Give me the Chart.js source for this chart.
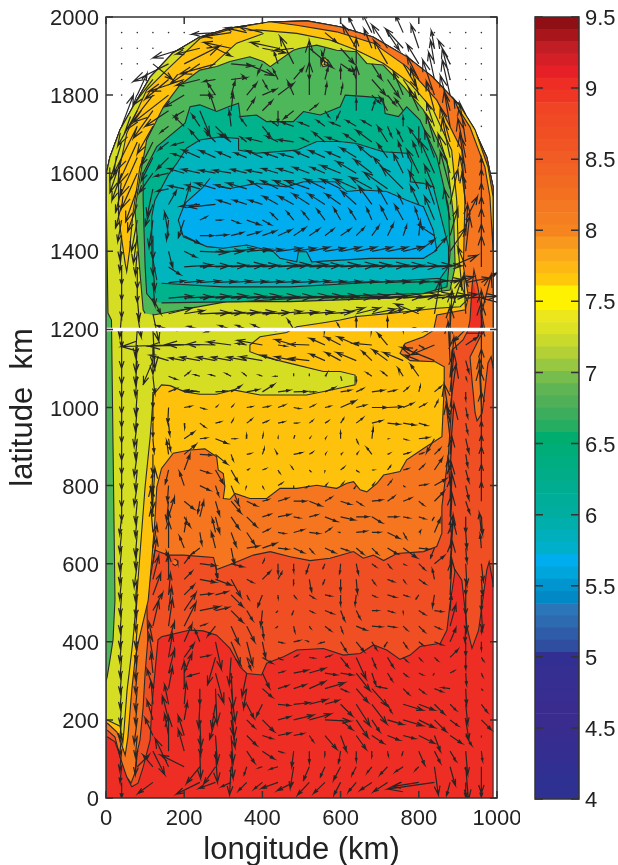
<!DOCTYPE html>
<html><head><meta charset="utf-8">
<style>html,body{margin:0;padding:0;background:#fff;width:618px;height:865px;overflow:hidden}
canvas{position:absolute;top:0}</style>
<script src="https://cdn.jsdelivr.net/npm/chart.js@4"></script></head><body>
<canvas id="main" width="520" height="865" style="left:0"></canvas>
<canvas id="bar" width="98" height="865" style="left:520px"></canvas>
<script>
// Colour bar
const barMin = 4, barMax = 9.5;
const barColors = ['#2e3192','#2e3192','#312f91','#342e90','#362d90','#382c8f','#3a2c8f','#3a2c8f','#382d90','#362e90','#342f91','#322f92',
'#2f4ea0','#2e5ca8','#2d6ab0','#2a76b8','#0089c4','#0095cf','#00a5dc','#00aeef','#00afca','#00afbb','#00aeac','#00ad9f','#00ad98','#00ad90','#00ad88','#00ad80','#00ad78','#00ad6e',
'#25ad62','#3bad5c','#50b058','#5fb554','#77bd4d','#98c741','#b3d136','#c9da2c','#dde223','#ece61c','#fff200','#fff200','#ffc80a','#fdb813','#fba91a','#f8981d','#f6851f',
'#f57e20','#f47721','#f37021','#f26a22','#f26323','#f15c24','#f15524','#f04f24','#f04a24','#f04424','#ef3524','#ee2e24','#e62026','#d51f26','#c11d24','#a8151b','#8f0f14'];

// Contour regions, longitude / latitude in km
const domainEdge = [[0,0],[0,1595],[10,1641],[36,1711],[69,1770],[113,1846],[171,1908],[240,1949],[317,1972],[419,1987],[514,1990],[598,1975],[683,1949],[770,1898],[836,1846],[898,1780],[939,1718],[974,1641],[990,1565],[990,0]];
const domeArc = [[990,1565],[974,1641],[939,1718],[898,1780],[836,1846],[770,1898],[683,1949],[598,1975],[514,1990],[419,1987],[317,1972],[240,1949],[171,1908],[113,1846],[69,1770],[36,1711],[10,1641],[0,1595]];
const redOrangeEdge = [[3,157],[23,144],[40,97],[57,46],[66,29],[82,38],[95,79],[113,149],[117,233],[125,320],[133,405],[142,413],[160,417],[215,430],[249,428],[283,417],[317,383],[343,336],[360,319],[398,315],[411,345],[454,362],[488,379],[556,383],[607,366],[650,370],[684,392],[718,379],[752,355],[778,366],[803,388],[855,396],[872,430],[880,498],[893,584],[910,558],[923,439],[936,383],[953,430],[974,584],[980,605],[988,560],[990,540]];
const redSpot = [[936,1330],[925,1215],[922,1190],[965,1190],[958,1250]];
const orangeEdge = [[3,174],[23,156],[36,105],[53,54],[64,38],[74,64],[79,115],[87,149],[95,233],[100,320],[107,405],[104,507],[125,635],[134,631],[159,622],[198,622],[275,616],[283,585],[326,601],[377,622],[420,631],[471,618],[522,608],[573,614],[633,631],[658,614],[684,622],[710,608],[744,626],[812,631],[846,644],[859,678],[859,746],[876,883],[884,1010],[884,1139],[885,1147],[913,1173],[926,1198],[931,1224],[936,1309],[941,1352],[951,1309],[964,1224],[969,1198],[957,1181],[931,1129],[936,1070],[944,986],[949,966],[962,986],[977,1114],[985,1130],[990,1100]];
const goldEdge = [[3,192],[28,169],[36,149],[49,110],[56,156],[66,277],[74,353],[84,405],[108,507],[117,609],[125,712],[130,797],[142,844],[172,883],[215,891],[253,894],[283,874],[287,840],[300,831],[304,797],[300,767],[317,765],[330,780],[368,767],[411,767],[445,793],[488,793],[539,801],[590,793],[616,806],[633,810],[650,789],[667,784],[693,806],[710,827],[752,836],[769,866],[812,895],[859,925],[865,1053],[865,1104],[842,1117],[778,1120],[752,1139],[765,1164],[812,1181],[838,1198],[846,1237],[919,1250],[927,1284],[914,1361],[918,1531],[910,1659],[846,1787],[769,1873],[684,1933],[590,1962],[488,1979],[419,1988],[326,1971],[240,1945],[172,1898],[100,1700],[60,1400],[3,1300]];
const yellowGreenEdge = [[3,200],[36,184],[43,141],[46,174],[54,277],[61,335],[69,405],[78,507],[87,626],[100,797],[113,925],[121,1032],[142,1058],[164,1056],[202,1040],[240,1034],[283,1034],[326,1045],[394,1032],[437,1032],[513,1032],[582,1046],[637,1058],[637,1083],[599,1092],[556,1092],[471,1113],[403,1130],[368,1143],[368,1160],[394,1181],[462,1192],[488,1207],[556,1217],[599,1224],[641,1233],[727,1241],[846,1254],[906,1258],[923,1275],[910,1309],[901,1403],[897,1531],[884,1659],[837,1762],[778,1830],[710,1881],[641,1915],[573,1941],[488,1958],[385,1967],[326,1958],[240,1949],[171,1908],[113,1846],[69,1770],[36,1711],[10,1641],[0,1595],[0,200]];
const goldWedge = [[326,1971],[240,1945],[155,1864],[104,1813],[53,1702],[32,1600],[32,1489],[49,1369],[53,1348],[60,1400],[69,1498],[87,1617],[121,1702],[189,1805],[258,1864],[334,1933],[403,1958]];
const goldRim = [[900,1782],[944,1711],[977,1616],[990,1539],[990,1400],[982,1539],[969,1616],[931,1718],[898,1770]];
const leftGreen = [[0,1590],[5,1242],[14,1224],[18,900],[23,507],[18,405],[10,353],[3,310],[0,300]];
const greenEdge = [[121,1237],[309,1271],[471,1271],[727,1280],[880,1301],[893,1361],[889,1489],[872,1634],[812,1762],[761,1822],[709,1877],[667,1881],[641,1911],[590,1915],[539,1928],[496,1920],[479,1915],[420,1873],[402,1886],[368,1898],[317,1886],[283,1873],[240,1864],[189,1826],[147,1770],[104,1685],[87,1591],[74,1506],[87,1344],[95,1250],[100,1241]];
const tealEdge = [[142,1268],[343,1271],[556,1284],[812,1292],[872,1309],[880,1395],[876,1514],[846,1642],[803,1736],[769,1770],[748,1745],[714,1753],[709,1792],[667,1796],[612,1800],[599,1770],[548,1749],[505,1758],[479,1732],[411,1732],[385,1749],[343,1745],[339,1779],[313,1770],[283,1758],[240,1775],[215,1770],[202,1728],[130,1668],[95,1600],[95,1531],[100,1361],[104,1292],[121,1271]];
const cyanEdge = [[142,1318],[300,1309],[471,1309],[641,1318],[855,1331],[876,1361],[876,1412],[837,1565],[812,1574],[778,1578],[782,1625],[769,1651],[709,1655],[641,1676],[599,1681],[539,1681],[488,1659],[385,1651],[339,1659],[339,1689],[292,1693],[240,1685],[206,1664],[181,1625],[159,1595],[125,1531],[117,1489],[117,1395],[130,1326]];
const blueEdge = [[266,1587],[249,1565],[202,1523],[185,1480],[198,1437],[258,1412],[300,1408],[360,1416],[428,1399],[445,1382],[488,1373],[492,1399],[513,1399],[526,1373],[676,1382],[812,1382],[846,1403],[837,1454],[812,1514],[769,1531],[718,1553],[658,1557],[616,1553],[586,1578],[505,1578],[462,1565],[385,1574],[317,1561],[292,1565]];
const goldSpot = [[552,1890],[560,1896],[568,1886],[565,1875],[555,1873],[550,1882]];
const orangeSpot = [[175,612],[182,608],[184,600],[177,595],[170,600]];

const layerEdges = [domainEdge, [...redOrangeEdge, ...domeArc], redSpot, [...orangeEdge, ...domeArc], goldEdge, goldRim, yellowGreenEdge, goldWedge, leftGreen, greenEdge, tealEdge, cyanEdge, blueEdge, goldSpot, orangeSpot];
const layerColors = ['#ee2e24','#f04e23','#ee3124','#f5761f','#fec20d','#fec20d','#d6de23','#fec20d','#4eb759','#4eb759','#00b38d','#00b5be','#00aeef','#fec20d','#f5761f'];

// Still points (latitude, then longitudes)
const stillRows = [[1960,40,80,120,160,200,800,840,880,920,960],[1920,40,80,120,840,880,920,960],[1880,40,80,880,920,960],[1840,40,80,880,920,960],[1800,40,920,960],[1760,960],[1720,960]];

// Velocity arrows: latitude, then repeated longitude, east and north extent (km)
const arrowRows = [
[1960,280,-60,-4,320,-70,-10,360,-55,12,400,-60,15,560,30,-25,640,-20,40,680,-25,50,720,30,-45,760,-20,45],
[1920,200,-80,-25,240,-60,-15,280,40,-20,320,-70,15,400,60,-12,440,-70,15,480,-50,-6,520,60,-50,560,-10,-40,600,35,-40,640,-35,60,680,-20,50,720,-40,60,760,-45,50,800,-20,60,840,-8,45],
[1880,120,50,-40,160,-90,-45,200,90,45,240,-75,-50,280,-90,-25,320,55,-5,360,70,-30,400,-12,-25,440,-10,30,480,-35,70,520,0,-40,560,-8,30,600,30,-20,640,0,65,680,25,-40,720,-35,60,760,35,-60,800,-30,50,840,-10,60,880,-30,60],
[1840,120,-50,-65,160,-60,-50,200,-90,-30,240,-60,-15,280,-30,-5,320,40,5,360,-10,10,400,12,-22,440,-12,25,480,25,30,520,0,100,560,8,30,600,0,30,640,-10,30,680,35,-40,720,30,-45,760,35,-50,800,-30,60,840,-15,70,880,-20,80],
[1800,80,25,55,120,-70,-90,160,-90,-70,200,-50,-30,240,30,0,280,-20,30,320,10,35,360,25,30,400,35,15,440,40,30,480,-15,35,520,0,85,560,5,30,600,5,25,640,0,75,680,20,-20,720,20,-25,760,-25,60,800,-20,70,840,-30,90,880,-20,90],
[1760,80,-50,-90,120,-50,-70,160,-60,-40,200,-25,-15,240,25,-60,280,-15,45,320,5,45,360,20,30,400,25,25,440,0,-30,480,-25,-20,520,20,15,560,10,-15,600,-10,-20,640,0,30,680,8,25,720,-20,35,760,-20,30,800,-25,55,840,-20,75,880,-25,90],
[1720,40,30,80,80,-60,-120,120,-40,-70,160,-20,-15,200,-25,25,240,-20,30,280,30,-30,320,-5,40,360,-15,20,400,20,-25,440,-15,12,480,-30,10,520,-25,10,560,-20,15,600,-25,10,640,-25,15,680,-25,15,720,10,-25,760,0,25,800,0,-45,840,-20,60,880,-15,90,920,-30,70],
[1680,40,-30,-100,80,-50,-110,120,-30,-60,160,-25,-20,200,-30,-8,240,-25,30,280,-25,25,320,-30,20,360,-15,12,400,-40,10,440,-30,15,480,-40,6,520,-20,10,560,-30,25,600,-35,12,640,-30,20,680,-40,30,720,-25,40,760,-15,30,800,-25,35,840,-20,70,880,-25,90,920,-15,100],
[1640,40,-30,-90,80,-45,-100,120,-30,-60,160,-30,-30,200,-30,10,240,-45,20,280,-40,18,320,-35,15,360,-30,12,400,-40,18,440,-35,12,480,-35,10,520,-35,15,560,-40,18,600,-35,15,640,-40,25,680,-35,30,720,-25,35,760,-12,40,800,-15,40,840,-25,70,880,-20,100,920,-20,100],
[1600,40,-25,-70,80,-40,-90,120,-35,-50,160,-35,-8,200,-40,12,240,-45,10,280,-40,8,320,-45,8,360,-40,10,400,-40,8,440,-40,12,480,-40,12,520,-40,15,560,-35,15,600,-50,20,640,-50,30,680,-45,35,720,-35,40,760,-25,50,800,-30,60,840,-35,80,880,-30,100,920,-15,100,960,0,40],
[1560,40,-15,-60,80,-30,-85,120,-15,-70,160,-30,-6,200,-40,8,240,-35,10,280,-50,15,320,-40,10,360,-50,15,400,-34,21,440,-42,21,480,-50,21,520,-60,21,560,-50,25,600,-50,25,640,-55,25,680,-55,30,720,-60,42,760,-55,55,800,-25,45,840,-25,60,880,-25,95,920,-15,85,960,0,50],
[1520,40,-15,-60,80,-25,-70,120,-20,-55,160,20,35,200,15,50,240,-50,-5,280,-68,-7,320,-34,11,360,-34,11,400,-34,11,440,-38,21,480,-38,21,520,-42,27,560,-42,27,600,-38,27,640,-38,34,680,-34,47,720,-25,44,760,-12,25,800,-21,47,840,-21,60,880,20,90,920,-10,80,960,0,55],
[1480,40,-10,-55,80,-15,-80,120,-10,-70,160,-5,-50,200,-15,-45,240,17,8,280,15,0,320,21,-8,360,34,-12,400,21,-12,440,-17,17,480,-17,21,520,-17,21,560,-20,27,600,-17,30,640,-17,27,680,-13,30,720,-17,34,760,-21,38,800,-9,30,840,-25,60,880,-15,80,920,30,60,960,0,60],
[1440,40,-5,-60,80,-10,-70,120,0,-60,160,-10,60,200,40,-20,240,34,0,280,30,2,320,30,8,360,34,10,400,34,12,440,34,15,480,30,20,520,25,17,560,22,17,600,25,17,640,20,20,680,18,25,720,15,30,760,9,26,800,4,38,840,-38,25,880,20,70,920,5,80,960,0,70],
[1400,40,-5,-50,80,-5,-60,120,0,-60,160,10,-40,200,30,-15,240,70,-3,280,70,0,320,60,6,360,60,5,400,50,5,440,60,8,480,55,8,520,50,10,560,50,8,600,50,10,640,50,10,680,50,10,720,50,10,760,50,12,800,40,30,840,30,35,880,40,60,920,10,90,960,0,70],
[1360,40,0,-45,80,0,-55,120,5,-60,160,30,-20,200,70,5,240,75,3,280,80,4,320,85,5,360,80,4,400,90,5,440,80,6,480,85,6,520,80,4,560,85,5,600,90,5,640,85,5,680,90,5,720,90,4,760,90,3,800,85,4,840,70,3,880,70,30,920,-20,50,960,0,80],
[1320,40,0,-45,80,0,-50,120,5,-60,160,40,4,200,45,4,240,50,4,280,50,3,320,50,4,360,50,3,400,50,3,440,50,3,480,55,3,520,50,4,560,50,3,600,50,3,640,50,3,680,50,3,720,55,3,760,60,3,800,70,5,840,70,8,880,60,15,920,60,12,960,40,25],
[1280,40,0,-50,80,5,-55,120,20,-40,160,60,5,200,70,4,240,75,5,280,80,6,320,85,5,360,85,5,400,90,4,440,90,4,480,90,5,520,85,5,560,85,5,600,85,4,640,80,6,680,90,6,720,90,5,760,90,8,800,85,10,840,85,8,880,70,10,920,80,5,960,60,-15],
[1240,40,-5,-60,80,10,-60,120,15,-70,160,60,15,200,50,8,240,75,3,280,70,3,320,70,4,360,70,5,400,70,3,440,60,6,480,60,4,520,60,5,560,70,5,600,60,15,640,60,15,680,60,12,720,40,12,760,50,15,800,-60,25,840,15,85,880,30,90,920,-5,100,960,25,100],
[1200,40,0,-45,80,-5,-70,120,5,-100,160,-30,10,200,-25,-2,240,-30,8,280,-25,-6,320,-30,10,360,-25,10,400,-25,12,440,-5,-3,480,-15,25,560,-2,-8,600,-8,15,640,0,30,680,-2,-8,720,0,30,760,0,-5,800,-10,4,840,-25,-5,880,5,100,920,-30,-30,960,0,100],
[1160,40,0,-60,80,-4,-70,120,0,-75,160,-120,-4,200,-90,-3,240,-85,2,280,-72,2,320,-60,8,360,-25,4,400,-64,12,440,20,-3,480,-47,14,520,-50,2,560,-38,17,600,-38,20,640,-47,21,680,-47,4,720,-25,30,760,15,-12,800,13,-8,840,-60,-25,880,0,100,920,30,20,960,0,110],
[1120,40,0,-60,80,-5,-60,120,-25,-60,160,-47,14,200,-38,7,240,-50,9,280,-47,9,320,-50,9,360,-50,9,400,-57,10,440,-42,14,480,-47,10,520,-50,6,560,-38,17,600,-38,21,640,-50,21,680,-25,24,720,-38,28,760,-50,21,800,-35,14,840,-85,34,880,-5,100,920,8,-30,960,0,90],
[1080,40,0,-55,80,-5,-50,120,5,-45,160,20,-8,200,13,10,240,-13,4,280,-13,4,320,-13,7,360,-8,7,400,-8,3,440,-8,0,480,0,8,520,0,7,560,5,7,600,3,-10,640,0,-12,680,-13,9,720,-13,11,760,-13,21,800,-21,30,880,10,100,920,2,-8,960,0,70],
[1040,40,0,-55,80,-4,-60,120,0,-40,160,20,8,200,25,2,240,-38,4,280,25,2,320,25,15,360,30,6,400,30,19,440,30,4,480,34,1,520,13,0,560,25,11,600,25,4,640,17,8,680,30,4,720,20,4,760,13,11,800,4,15,840,17,14,880,10,100,920,0,-20,960,-5,85],
[1000,40,0,-50,80,-5,-60,120,0,-35,160,-2,-40,200,17,3,240,13,-4,280,4,3,320,5,5,360,13,2,400,17,3,440,17,6,480,15,-3,520,13,6,560,13,3,600,38,17,640,24,6,680,38,0,720,38,2,760,25,11,800,17,9,840,9,17,880,15,110,920,5,-25,960,-5,100],
[960,40,0,-50,80,-8,-60,120,0,-35,160,3,-30,200,2,-13,240,13,-10,280,13,3,320,5,8,360,13,10,400,13,5,440,15,3,480,10,0,520,8,6,560,8,5,600,8,12,640,17,13,680,25,6,720,30,-3,760,30,-5,800,20,-6,880,-15,100,920,5,-25,960,0,80],
[920,40,0,-55,80,-5,-50,120,3,-35,160,5,-30,200,25,17,240,17,2,280,30,-12,320,12,0,360,0,10,400,2,10,440,0,4,480,3,9,520,2,2,560,2,2,600,0,17,640,4,-10,680,3,25,720,2,0,760,10,-3,800,25,3,840,-20,-35,880,-10,90,920,8,-35,960,0,45],
[880,40,0,-50,80,-8,-55,120,0,-50,160,-5,35,200,30,25,240,30,-2,280,30,-25,320,5,-15,360,10,2,400,5,15,440,-5,7,480,20,4,520,8,5,560,2,2,600,3,2,640,4,4,680,-13,17,720,5,2,760,15,4,800,10,3,840,15,15,880,10,130,920,5,-30,960,0,50],
[840,40,0,-50,80,-5,-50,120,-3,-60,160,-8,-35,200,15,40,240,25,-8,280,20,-35,320,17,-30,360,5,2,400,8,3,440,4,-7,480,-5,8,520,4,-4,560,0,-3,600,9,7,640,3,-3,680,4,0,720,8,10,760,12,3,800,13,12,840,20,30,880,5,85,920,8,-30,960,0,60],
[800,40,0,-55,80,-8,-50,120,0,-60,160,-3,-40,200,-12,35,240,25,-12,280,8,-25,320,20,-50,360,-2,-5,400,2,-5,440,10,6,480,0,-8,520,-8,-5,560,5,4,600,7,7,640,-5,-7,680,5,5,720,10,12,760,4,-3,800,20,3,840,30,17,880,-5,70,920,8,-35,960,0,55],
[760,40,0,-50,80,-5,-55,120,5,85,160,-5,-50,200,25,-20,240,-5,-30,280,10,-35,320,25,-30,360,25,-12,400,15,4,440,25,8,480,30,0,520,30,-12,560,17,10,600,25,-8,640,15,-10,680,25,3,720,17,12,760,20,8,800,12,-10,840,25,25,880,3,100,920,10,-30,960,0,50],
[720,40,-5,-45,80,-5,-50,120,-5,75,160,15,50,200,15,-25,240,10,40,280,10,-40,320,20,-30,360,25,-25,400,20,6,440,30,6,480,15,-3,520,20,5,560,30,-12,600,35,-8,640,30,0,680,25,-15,720,25,0,760,15,-3,800,15,-5,840,-5,-8,880,5,110,920,0,-40,960,3,-45],
[680,40,-5,-50,80,-5,-60,120,-5,60,160,0,55,200,5,30,240,5,-30,280,-8,35,320,13,-35,360,20,-30,400,17,8,440,17,-3,480,25,7,520,25,-3,560,15,10,600,-3,0,640,25,3,680,20,0,720,30,-15,760,8,-15,800,5,5,840,15,35,880,5,100,920,3,-40,960,-5,50],
[640,40,-5,-55,80,-5,-50,120,10,60,160,0,70,200,-12,30,240,-20,-15,280,-10,40,320,8,-40,360,30,5,400,35,12,440,25,-3,480,25,-12,520,10,-12,560,25,-12,600,20,-7,640,18,-15,680,15,-15,720,25,-15,760,35,-25,800,25,-3,840,-10,-25,880,8,85,920,3,-35,960,-3,35],
[600,40,-5,-50,80,-8,-60,120,10,65,160,-5,30,200,15,20,240,40,-5,280,4,-35,320,30,-8,400,5,10,440,0,-25,480,0,-20,520,-8,-25,560,-5,-12,600,-2,-25,640,5,-25,680,10,-8,720,8,-10,760,5,-3,800,15,-15,840,25,20,880,8,110,920,3,-55,960,5,-45],
[560,40,-5,-50,80,-5,-55,120,15,60,160,0,65,200,20,20,240,40,-8,280,40,-15,320,25,-45,360,15,-8,400,20,20,440,10,18,480,0,-13,520,5,-30,560,-5,-12,600,0,-30,640,3,-35,680,8,-12,720,15,-6,760,5,-8,800,17,-12,840,-5,25,880,5,100,920,0,-40,960,3,-40],
[520,40,-4,-50,80,-4,-55,120,20,55,160,5,55,200,25,25,240,30,3,280,30,8,320,30,-30,360,5,-10,400,-12,-30,440,0,-8,480,5,-7,520,12,-8,560,15,-3,600,0,-25,640,-3,-25,680,10,-5,720,20,-6,760,12,-4,800,-7,-10,840,-5,-30,880,5,90,920,0,-50,960,0,-40],
[480,40,-4,-55,80,-5,-50,120,25,45,160,8,60,200,30,45,240,50,10,280,34,8,320,30,-30,360,15,-25,400,-4,-40,440,-4,-4,480,-4,-10,520,10,-5,560,20,-8,600,10,-25,640,10,-20,680,15,0,720,15,-5,760,0,-5,800,15,-10,840,20,-3,880,3,40,920,2,-55,960,3,-50],
[440,40,-4,-55,80,-4,-55,120,15,65,160,10,70,200,30,60,240,15,5,280,-20,-25,320,20,-45,360,20,-40,400,3,-30,440,-5,-4,480,3,-15,520,3,-5,560,15,-12,600,5,-15,640,25,-10,680,25,-2,720,20,-3,760,10,-10,800,15,-15,840,15,-7,880,15,55,920,-2,-40,960,0,-15],
[400,40,-5,-50,80,-4,-50,120,-10,50,160,15,50,200,20,45,240,-12,30,280,15,-70,320,25,-60,360,15,-60,400,8,-40,440,12,-3,480,15,3,520,-5,2,560,-12,-3,600,15,-25,640,20,-25,680,12,-20,720,-8,-12,760,10,-15,800,10,-8,840,20,-8,880,15,35,920,0,-35,960,0,-20],
[360,40,-4,-50,80,-5,-55,120,-10,60,160,10,60,200,25,35,240,25,5,280,-20,-70,320,-5,-70,360,10,-30,400,25,-15,440,7,-5,480,10,5,520,12,-2,560,15,5,600,20,-25,640,25,-55,680,10,-25,720,15,-25,760,10,-10,800,7,-8,840,8,-8,880,20,20,920,0,-30,960,5,-8],
[320,40,-4,-50,80,-5,-50,120,-5,50,160,15,60,200,20,50,240,-30,-8,280,20,-75,320,5,-90,360,-12,-60,400,18,-38,440,15,4,480,35,7,520,40,12,560,30,-5,600,30,-5,640,35,-45,680,10,-30,720,12,-20,760,10,-8,800,10,-5,840,-3,-5,880,10,5,920,2,-30,960,3,-8],
[280,40,-4,-50,80,-5,-55,120,-15,50,160,10,55,200,0,70,240,0,-40,280,4,-90,320,10,-85,360,-8,-50,400,25,-22,440,25,8,480,30,10,520,40,18,560,50,15,600,17,-8,640,30,-35,680,40,-45,720,-25,5,760,15,-15,800,15,-12,840,20,-8,880,-20,3,920,2,-40,960,3,-4],
[240,40,-4,-50,80,-5,-50,120,-5,60,160,-10,50,200,5,55,240,-3,-60,280,-10,-60,320,8,-85,360,18,-35,400,-15,-30,440,30,-3,480,40,4,520,45,12,560,35,10,600,30,-30,640,35,-55,680,38,-50,720,10,-20,760,50,-15,800,40,-15,840,25,-25,880,15,-15,920,5,-50,960,15,-20],
[200,40,-5,-50,80,-8,-60,120,-15,50,160,-15,60,200,8,45,240,3,-70,280,-15,-50,320,10,-70,360,20,-20,400,30,-30,440,30,8,480,50,12,520,55,15,560,65,-3,600,30,-25,640,30,-45,680,20,-30,720,40,-12,760,50,-15,800,40,-20,840,30,-30,880,20,-15,920,8,-50,960,25,-25],
[160,40,-5,-50,80,-5,-55,120,-20,45,160,-10,55,200,-15,50,240,2,-50,280,5,-70,320,5,-70,360,25,-25,400,25,-8,440,30,6,480,25,5,520,10,-15,560,30,-35,600,15,-40,640,25,-35,680,30,-20,720,30,-12,760,30,-8,800,40,-20,840,15,-40,880,30,-20,920,15,-25,960,0,-5],
[120,40,-5,-50,80,-5,-60,120,30,-60,160,0,90,200,-15,55,240,2,-70,280,5,-80,320,5,-70,360,20,-30,400,30,-20,440,12,-4,480,-5,-40,520,0,-30,560,0,-12,600,-5,-30,640,0,-25,680,0,-15,720,2,-12,760,-3,-10,800,15,-35,840,15,-30,880,15,-25,920,5,-60,960,3,-25],
[80,40,-4,-40,80,30,30,120,-25,30,160,-34,72,200,-60,30,240,-34,-42,280,-30,-44,320,-4,-72,360,-7,-21,400,-10,-3,440,-20,-6,480,-9,-55,520,-15,-34,560,-12,-26,600,-18,-34,640,-11,-21,680,-12,-15,720,-19,-20,760,-20,-13,800,-9,-9,840,10,-72,880,13,-47,920,7,-85,960,0,-68],
[40,40,0,-40,120,-38,-28,240,-60,-30,280,-42,-15,320,-25,-11,360,-21,-21,400,-21,-17,440,-42,-15,480,-42,-21,520,-30,-32,560,-29,-28,600,-17,-32,640,-20,-24,680,-30,-20,720,-36,-24,800,-68,-11,840,-120,-17,880,-9,-34,920,0,-38,960,0,-38]
];

const whiteLine = [[0,1200],[1000,1200]];
const xTickValues = [0,200,400,600,800,1000];
const yTickValues = [0,200,400,600,800,1000,1200,1400,1600,1800,2000];

const pts = a => a.map(p => ({x:p[0], y:p[1]}));
function arrowPoints() {
  const out = [];
  for (const row of arrowRows) {
    const y = row[0];
    for (let i = 1; i < row.length; i += 3) {
      const x = row[i], u = row[i+1], v = row[i+2];
      const tx = x+u, ty = y+v, c = 0.95, s = 0.31, k = 0.33;
      out.push({x,y},{x:tx,y:ty},
        {x:tx-k*(u*c-v*s), y:ty-k*(v*c+u*s)},{x:tx,y:ty},
        {x:tx-k*(u*c+v*s), y:ty-k*(v*c-u*s)},{x:null,y:null});
    }
  }
  return out;
}
function stillPoints() {
  const out = [];
  for (const r of stillRows) for (let i = 1; i < r.length; i++) out.push({x:r[i], y:r[0]});
  return out;
}

const frame = (len) => ({
  id:'frame',
  afterDatasetsDraw(chart) {
    const {ctx, chartArea:a, scales} = chart;
    ctx.save(); ctx.strokeStyle='#333'; ctx.lineWidth=1.5;
    ctx.beginPath();
    const sy = scales.y;
    sy.ticks.forEach(t => { const p = sy.getPixelForValue(t.value);
      ctx.moveTo(a.left,p); ctx.lineTo(a.left+len,p); ctx.moveTo(a.right,p); ctx.lineTo(a.right-len,p); });
    if (scales.x.type === 'linear') scales.x.ticks.forEach(t => { const p = scales.x.getPixelForValue(t.value);
      ctx.moveTo(p,a.bottom); ctx.lineTo(p,a.bottom-len); ctx.moveTo(p,a.top); ctx.lineTo(p,a.top+len); });
    ctx.stroke();
    ctx.strokeRect(a.left,a.top,a.width,a.height);
    ctx.restore();
  }
});
const fontFamily = '"Liberation Sans", Arial, sans-serif';
const datasets = [];
layerEdges.forEach((edge,i) => datasets.push({type:'scatter', showLine:true, data:pts(edge), fill:'shape', backgroundColor:layerColors[i], borderColor:'#2a2a2a', borderWidth:1.1, pointRadius:0, tension:0}));
datasets.push({type:'scatter', data:stillPoints(), pointRadius:0.8, pointBackgroundColor:'#333', pointBorderWidth:0, showLine:false});
datasets.push({type:'scatter', showLine:true, data:arrowPoints(), borderColor:'#262626', borderWidth:1.2, pointRadius:0, fill:false, spanGaps:false, tension:0});
datasets.push({type:'scatter', showLine:true, data:pts(whiteLine), borderColor:'#fff', borderWidth:3.5, pointRadius:0, fill:false});
datasets.forEach((d,i) => d.order = -i);

new Chart(document.getElementById('main'), {
  type:'scatter',
  data:{datasets},
  plugins:[frame(7)],
  options:{
    responsive:false, animation:false, devicePixelRatio:1,
    layout:{padding:{top:17,right:23,left:0,bottom:0}},
    plugins:{legend:{display:false},tooltip:{enabled:false},filler:{propagate:false}},
    scales:{
      x:{type:'linear',min:0,max:1000,afterFit(s){s.height=67;s.paddingLeft=0;s.paddingRight=0;},
        afterBuildTicks(s){s.ticks=xTickValues.map(value=>({value}));},
        grid:{display:false,drawTicks:false},border:{display:false},
        ticks:{color:'#222',padding:8,maxRotation:0,font:{size:22,family:fontFamily},callback:v=>String(v)},
        title:{display:true,text:'longitude (km)',color:'#222',font:{size:31,family:fontFamily},padding:{top:0,bottom:-4}}},
      y:{type:'linear',min:0,max:2000,afterFit(s){s.width=106;s.paddingTop=0;s.paddingBottom=0;},
        afterBuildTicks(s){s.ticks=yTickValues.map(value=>({value}));},
        grid:{display:false,drawTicks:false},border:{display:false},
        ticks:{color:'#222',padding:7,labelOffset:2,font:{size:22,family:fontFamily},callback:v=>String(v)},
        title:{display:true,text:'latitude  km',color:'#222',font:{size:31,family:fontFamily},padding:{top:5,bottom:0}}}
    }
  }
});

const step = (barMax-barMin)/barColors.length;
new Chart(document.getElementById('bar'), {
  type:'bar',
  data:{labels:[''],datasets:barColors.map((c,i)=>({data:[[barMin+i*step,barMin+(i+1)*step]],backgroundColor:c,borderWidth:0,barPercentage:1,categoryPercentage:1,grouped:false}))},
  plugins:[frame(8)],
  options:{
    responsive:false, animation:false, devicePixelRatio:1,
    layout:{padding:{top:17,left:15,right:0,bottom:66}},
    plugins:{legend:{display:false},tooltip:{enabled:false}},
    scales:{
      x:{display:false},
      y:{position:'right',min:barMin,max:barMax,afterFit(s){s.width=39;s.paddingTop=0;s.paddingBottom=0;},
        grid:{display:false,drawTicks:false},border:{display:false},
        ticks:{stepSize:0.5,color:'#222',padding:6,labelOffset:2,font:{size:22,family:fontFamily},callback:v=>String(v)}}
    }
  }
});
</script></body></html>
